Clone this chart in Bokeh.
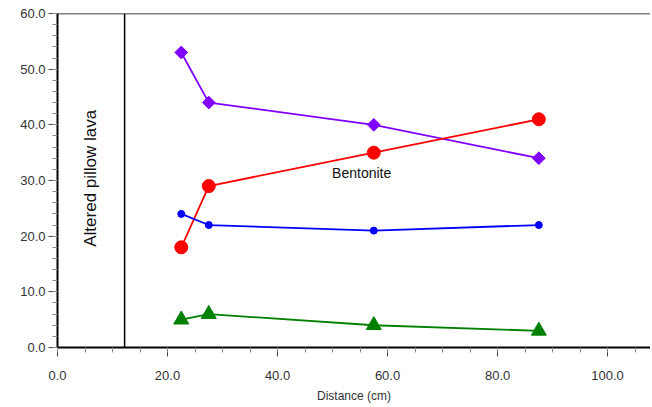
from bokeh.plotting import figure
from bokeh.models import Range1d, Span, Label, PrintfTickFormatter, SingleIntervalTicker
from bokeh.embed import file_html
from bokeh.resources import INLINE
import math

distance = [22.5, 27.5, 57.5, 87.5]
purple_vals = [53, 44, 40, 34]
red_vals = [18, 29, 35, 41]
blue_vals = [24, 22, 21, 22]
green_vals = [5, 6, 4, 3]
boundary_x = 12.2

p = figure(width=650, height=405, output_backend="svg", toolbar_location=None,
           x_range=Range1d(0, 107.8), y_range=Range1d(0, 60),
           min_border_left=57, min_border_right=0, min_border_top=13, min_border_bottom=57)
p.background_fill_color = "white"
p.border_fill_color = "white"
p.outline_line_color = None
p.grid.visible = False

font = "Liberation Sans"
for ax in (p.xaxis[0], p.yaxis[0]):
    ax.axis_line_width = 2
    ax.axis_line_color = "black"
    ax.major_tick_line_color = "#444444"
    ax.minor_tick_line_color = "#888888"
    ax.major_tick_out = 9
    ax.major_tick_in = 0
    ax.minor_tick_out = 5
    ax.minor_tick_in = 0
    ax.major_label_text_font = font
    ax.major_label_text_font_size = "13px"
    ax.major_label_text_color = "#333333"
    ax.formatter = PrintfTickFormatter(format="%.1f")

p.xaxis.ticker = SingleIntervalTicker(interval=20, num_minor_ticks=4)
p.yaxis.ticker = SingleIntervalTicker(interval=10, num_minor_ticks=5)
p.xaxis.axis_label = "Distance (cm)"
p.xaxis.axis_label_text_font = font
p.xaxis.axis_label_text_font_style = "normal"
p.xaxis.axis_label_text_font_size = "12px"
p.xaxis.axis_label_text_color = "#333333"
p.xaxis.axis_label_standoff = 6
p.xaxis.major_label_standoff = 14
p.yaxis.major_label_standoff = 3

p.add_layout(Span(location=60, dimension="width", line_color="black", line_width=1.5))
p.add_layout(Span(location=boundary_x, dimension="height", line_color="black", line_width=1.5))

lw = 1.8
p.line(distance, purple_vals, line_color="#8000FF", line_width=lw)
p.scatter(distance, purple_vals, marker="square", size=9, angle=math.pi / 4, color="#8000FF")
p.line(distance, red_vals, line_color="#FF0000", line_width=lw)
p.scatter(distance, red_vals, marker="circle", size=13, color="#FF0000")
p.line(distance, blue_vals, line_color="#0000FF", line_width=lw)
p.scatter(distance, blue_vals, marker="circle", size=7, color="#0000FF")
p.line(distance, green_vals, line_color="#008000", line_width=lw)
p.scatter(distance, green_vals, marker="triangle", size=15, color="#008000")

p.add_layout(Label(x=6.0, y=30.4, text="Altered pillow lava", angle=90, angle_units="deg",
                   text_align="center", text_baseline="middle", text_font=font,
                   text_font_size="17px", text_color="#111111"))
p.add_layout(Label(x=55.3, y=31.4, text="Bentonite", text_align="center",
                   text_baseline="middle", text_font=font, text_font_size="14px",
                   text_color="#111111"))

open("out.html", "w").write(file_html(p, INLINE))
